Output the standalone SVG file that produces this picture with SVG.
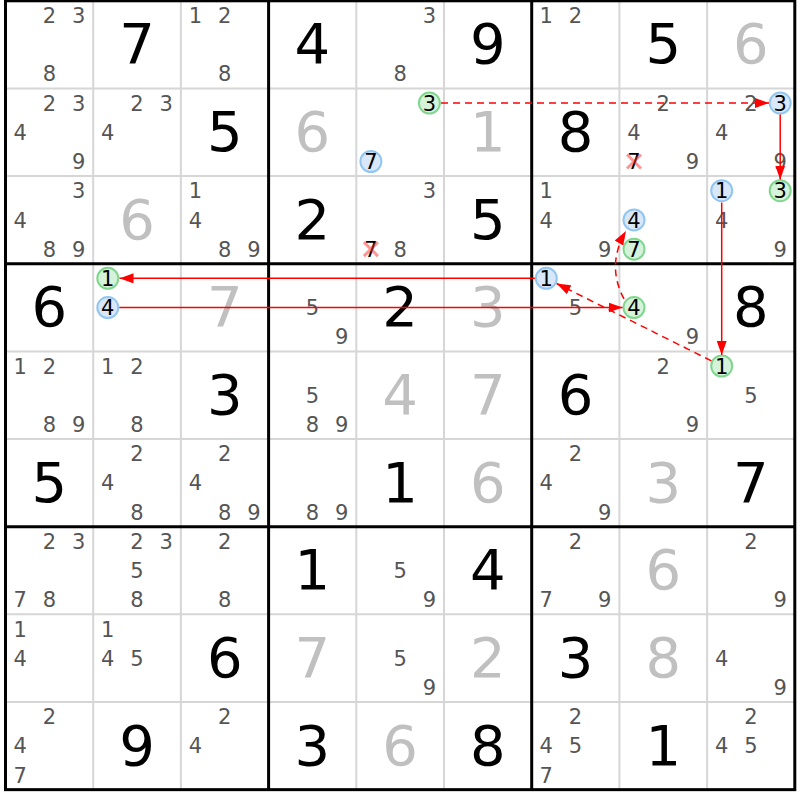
<svg xmlns="http://www.w3.org/2000/svg" width="800" height="800" viewBox="0 0 800 800">
<defs>
<style>
text{font-family:"DejaVu Sans",Verdana,sans-serif;text-anchor:middle}
.c{font-size:21px;fill:#555}
.k{font-size:21px;fill:#000}
.g{font-size:56px;fill:#000}
.s{font-size:56px;fill:#c0c0c0}
.thin{stroke:#d6d6d6;stroke-width:2}
.thick{stroke:#000;stroke-width:3}
.bl{fill:#d8e8f9;stroke:#92c6f2;stroke-width:2}
.gr{fill:#d5f3da;stroke:#80d68e;stroke-width:2}
.x{stroke:#ff3030;stroke-width:3;opacity:0.5}
.ln{fill:none;stroke:#ff0000;stroke-width:1.5}
.dash{stroke-dasharray:7 5}
</style>
<marker id="ah" markerUnits="userSpaceOnUse" markerWidth="14" markerHeight="10" refX="14" refY="5" orient="auto">
<path d="M0,0 L14,5 L0,10 Z" fill="#ff0000"/>
</marker>
</defs>
<rect width="800" height="800" fill="#fff"/>
<g id="grid">
<line class="thin" x1="93.2" y1="0.8" x2="93.2" y2="789.65"/>
<line class="thin" x1="180.9" y1="0.8" x2="180.9" y2="789.65"/>
<line class="thin" x1="356.3" y1="0.8" x2="356.3" y2="789.65"/>
<line class="thin" x1="444" y1="0.8" x2="444" y2="789.65"/>
<line class="thin" x1="619.4" y1="0.8" x2="619.4" y2="789.65"/>
<line class="thin" x1="707.1" y1="0.8" x2="707.1" y2="789.65"/>
<line class="thin" x1="5.5" y1="88.45" x2="794.8" y2="88.45"/>
<line class="thin" x1="5.5" y1="176.1" x2="794.8" y2="176.1"/>
<line class="thin" x1="5.5" y1="351.4" x2="794.8" y2="351.4"/>
<line class="thin" x1="5.5" y1="439.05" x2="794.8" y2="439.05"/>
<line class="thin" x1="5.5" y1="614.35" x2="794.8" y2="614.35"/>
<line class="thin" x1="5.5" y1="702" x2="794.8" y2="702"/>
<line class="thick" x1="268.6" y1="0.8" x2="268.6" y2="789.65"/>
<line class="thick" x1="531.7" y1="0.8" x2="531.7" y2="789.65"/>
<line class="thick" x1="5.5" y1="263.75" x2="794.8" y2="263.75"/>
<line class="thick" x1="5.5" y1="526.7" x2="794.8" y2="526.7"/>
<rect class="thick" x="5.5" y="0.8" width="789.3" height="788.85" fill="none"/>
</g>

<!-- Row 0 -->
<g id="r0c0" transform="translate(5.5,0.8)"><text class="c" x="43.85" y="22.25">2</text><text class="c" x="73.1" y="22.25">3</text><text class="c" x="43.85" y="80.7">8</text></g>
<g id="r0c1" transform="translate(93.2,0.8)"><text class="g" x="43.85" y="62.5">7</text></g>
<g id="r0c2" transform="translate(180.9,0.8)"><text class="c" x="14.6" y="22.25">1</text><text class="c" x="43.85" y="22.25">2</text><text class="c" x="43.85" y="80.7">8</text></g>
<g id="r0c3" transform="translate(268.6,0.8)"><text class="g" x="43.85" y="62.5">4</text></g>
<g id="r0c4" transform="translate(356.3,0.8)"><text class="c" x="73.1" y="22.25">3</text><text class="c" x="43.85" y="80.7">8</text></g>
<g id="r0c5" transform="translate(444,0.8)"><text class="g" x="43.85" y="62.5">9</text></g>
<g id="r0c6" transform="translate(531.7,0.8)"><text class="c" x="14.6" y="22.25">1</text><text class="c" x="43.85" y="22.25">2</text></g>
<g id="r0c7" transform="translate(619.4,0.8)"><text class="g" x="43.85" y="62.5">5</text></g>
<g id="r0c8" transform="translate(707.1,0.8)"><text class="s" x="43.85" y="62.5">6</text></g>

<!-- Row 1 -->
<g id="r1c0" transform="translate(5.5,88.45)"><text class="c" x="43.85" y="22.25">2</text><text class="c" x="73.1" y="22.25">3</text><text class="c" x="14.6" y="51.45">4</text><text class="c" x="73.1" y="80.7">9</text></g>
<g id="r1c1" transform="translate(93.2,88.45)"><text class="c" x="43.85" y="22.25">2</text><text class="c" x="73.1" y="22.25">3</text><text class="c" x="14.6" y="51.45">4</text></g>
<g id="r1c2" transform="translate(180.9,88.45)"><text class="g" x="43.85" y="62.5">5</text></g>
<g id="r1c3" transform="translate(268.6,88.45)"><text class="s" x="43.85" y="62.5">6</text></g>
<g id="r1c4" transform="translate(356.3,88.45)"><circle class="gr" cx="73.1" cy="14.6" r="10.5"/><text class="k" x="73.1" y="22.25">3</text><circle class="bl" cx="14.6" cy="73.05" r="10.5"/><text class="k" x="14.6" y="80.7">7</text></g>
<g id="r1c5" transform="translate(444,88.45)"><text class="s" x="43.85" y="62.5">1</text></g>
<g id="r1c6" transform="translate(531.7,88.45)"><text class="g" x="43.85" y="62.5">8</text></g>
<g id="r1c7" transform="translate(619.4,88.45)"><text class="c" x="43.85" y="22.25">2</text><text class="c" x="14.6" y="51.45">4</text><text class="k" x="14.6" y="80.7">7</text><path class="x" d="M7.6,66 L21.6,80 M21.6,66 L7.6,80"/><text class="c" x="73.1" y="80.7">9</text></g>
<g id="r1c8" transform="translate(707.1,88.45)"><text class="c" x="43.85" y="22.25">2</text><circle class="bl" cx="73.1" cy="14.6" r="10.5"/><text class="k" x="73.1" y="22.25">3</text><text class="c" x="14.6" y="51.45">4</text><text class="c" x="73.1" y="80.7">9</text></g>

<!-- Row 2 -->
<g id="r2c0" transform="translate(5.5,176.1)"><text class="c" x="73.1" y="22.25">3</text><text class="c" x="14.6" y="51.45">4</text><text class="c" x="43.85" y="80.7">8</text><text class="c" x="73.1" y="80.7">9</text></g>
<g id="r2c1" transform="translate(93.2,176.1)"><text class="s" x="43.85" y="62.5">6</text></g>
<g id="r2c2" transform="translate(180.9,176.1)"><text class="c" x="14.6" y="22.25">1</text><text class="c" x="14.6" y="51.45">4</text><text class="c" x="43.85" y="80.7">8</text><text class="c" x="73.1" y="80.7">9</text></g>
<g id="r2c3" transform="translate(268.6,176.1)"><text class="g" x="43.85" y="62.5">2</text></g>
<g id="r2c4" transform="translate(356.3,176.1)"><text class="c" x="73.1" y="22.25">3</text><text class="k" x="14.6" y="80.7">7</text><path class="x" d="M7.6,66 L21.6,80 M21.6,66 L7.6,80"/><text class="c" x="43.85" y="80.7">8</text></g>
<g id="r2c5" transform="translate(444,176.1)"><text class="g" x="43.85" y="62.5">5</text></g>
<g id="r2c6" transform="translate(531.7,176.1)"><text class="c" x="14.6" y="22.25">1</text><text class="c" x="14.6" y="51.45">4</text><text class="c" x="73.1" y="80.7">9</text></g>
<g id="r2c7" transform="translate(619.4,176.1)"><circle class="bl" cx="14.6" cy="43.8" r="10.5"/><text class="k" x="14.6" y="51.45">4</text><circle class="gr" cx="14.6" cy="73.05" r="10.5"/><text class="k" x="14.6" y="80.7">7</text></g>
<g id="r2c8" transform="translate(707.1,176.1)"><circle class="bl" cx="14.6" cy="14.6" r="10.5"/><text class="k" x="14.6" y="22.25">1</text><circle class="gr" cx="73.1" cy="14.6" r="10.5"/><text class="k" x="73.1" y="22.25">3</text><text class="c" x="14.6" y="51.45">4</text><text class="c" x="73.1" y="80.7">9</text></g>

<!-- Row 3 -->
<g id="r3c0" transform="translate(5.5,263.75)"><text class="g" x="43.85" y="62.5">6</text></g>
<g id="r3c1" transform="translate(93.2,263.75)"><circle class="gr" cx="14.6" cy="14.6" r="10.5"/><text class="k" x="14.6" y="22.25">1</text><circle class="bl" cx="14.6" cy="43.8" r="10.5"/><text class="k" x="14.6" y="51.45">4</text></g>
<g id="r3c2" transform="translate(180.9,263.75)"><text class="s" x="43.85" y="62.5">7</text></g>
<g id="r3c3" transform="translate(268.6,263.75)"><text class="c" x="43.85" y="51.45">5</text><text class="c" x="73.1" y="80.7">9</text></g>
<g id="r3c4" transform="translate(356.3,263.75)"><text class="g" x="43.85" y="62.5">2</text></g>
<g id="r3c5" transform="translate(444,263.75)"><text class="s" x="43.85" y="62.5">3</text></g>
<g id="r3c6" transform="translate(531.7,263.75)"><circle class="bl" cx="14.6" cy="14.6" r="10.5"/><text class="k" x="14.6" y="22.25">1</text><text class="c" x="43.85" y="51.45">5</text></g>
<g id="r3c7" transform="translate(619.4,263.75)"><circle class="gr" cx="14.6" cy="43.8" r="10.5"/><text class="k" x="14.6" y="51.45">4</text><text class="c" x="73.1" y="80.7">9</text></g>
<g id="r3c8" transform="translate(707.1,263.75)"><text class="g" x="43.85" y="62.5">8</text></g>

<!-- Row 4 -->
<g id="r4c0" transform="translate(5.5,351.4)"><text class="c" x="14.6" y="22.25">1</text><text class="c" x="43.85" y="22.25">2</text><text class="c" x="43.85" y="80.7">8</text><text class="c" x="73.1" y="80.7">9</text></g>
<g id="r4c1" transform="translate(93.2,351.4)"><text class="c" x="14.6" y="22.25">1</text><text class="c" x="43.85" y="22.25">2</text><text class="c" x="43.85" y="80.7">8</text></g>
<g id="r4c2" transform="translate(180.9,351.4)"><text class="g" x="43.85" y="62.5">3</text></g>
<g id="r4c3" transform="translate(268.6,351.4)"><text class="c" x="43.85" y="51.45">5</text><text class="c" x="43.85" y="80.7">8</text><text class="c" x="73.1" y="80.7">9</text></g>
<g id="r4c4" transform="translate(356.3,351.4)"><text class="s" x="43.85" y="62.5">4</text></g>
<g id="r4c5" transform="translate(444,351.4)"><text class="s" x="43.85" y="62.5">7</text></g>
<g id="r4c6" transform="translate(531.7,351.4)"><text class="g" x="43.85" y="62.5">6</text></g>
<g id="r4c7" transform="translate(619.4,351.4)"><text class="c" x="43.85" y="22.25">2</text><text class="c" x="73.1" y="80.7">9</text></g>
<g id="r4c8" transform="translate(707.1,351.4)"><circle class="gr" cx="14.6" cy="14.6" r="10.5"/><text class="k" x="14.6" y="22.25">1</text><text class="c" x="43.85" y="51.45">5</text></g>

<!-- Row 5 -->
<g id="r5c0" transform="translate(5.5,439.05)"><text class="g" x="43.85" y="62.5">5</text></g>
<g id="r5c1" transform="translate(93.2,439.05)"><text class="c" x="43.85" y="22.25">2</text><text class="c" x="14.6" y="51.45">4</text><text class="c" x="43.85" y="80.7">8</text></g>
<g id="r5c2" transform="translate(180.9,439.05)"><text class="c" x="43.85" y="22.25">2</text><text class="c" x="14.6" y="51.45">4</text><text class="c" x="43.85" y="80.7">8</text><text class="c" x="73.1" y="80.7">9</text></g>
<g id="r5c3" transform="translate(268.6,439.05)"><text class="c" x="43.85" y="80.7">8</text><text class="c" x="73.1" y="80.7">9</text></g>
<g id="r5c4" transform="translate(356.3,439.05)"><text class="g" x="43.85" y="62.5">1</text></g>
<g id="r5c5" transform="translate(444,439.05)"><text class="s" x="43.85" y="62.5">6</text></g>
<g id="r5c6" transform="translate(531.7,439.05)"><text class="c" x="43.85" y="22.25">2</text><text class="c" x="14.6" y="51.45">4</text><text class="c" x="73.1" y="80.7">9</text></g>
<g id="r5c7" transform="translate(619.4,439.05)"><text class="s" x="43.85" y="62.5">3</text></g>
<g id="r5c8" transform="translate(707.1,439.05)"><text class="g" x="43.85" y="62.5">7</text></g>

<!-- Row 6 -->
<g id="r6c0" transform="translate(5.5,526.7)"><text class="c" x="43.85" y="22.25">2</text><text class="c" x="73.1" y="22.25">3</text><text class="c" x="14.6" y="80.7">7</text><text class="c" x="43.85" y="80.7">8</text></g>
<g id="r6c1" transform="translate(93.2,526.7)"><text class="c" x="43.85" y="22.25">2</text><text class="c" x="73.1" y="22.25">3</text><text class="c" x="43.85" y="51.45">5</text><text class="c" x="43.85" y="80.7">8</text></g>
<g id="r6c2" transform="translate(180.9,526.7)"><text class="c" x="43.85" y="22.25">2</text><text class="c" x="43.85" y="80.7">8</text></g>
<g id="r6c3" transform="translate(268.6,526.7)"><text class="g" x="43.85" y="62.5">1</text></g>
<g id="r6c4" transform="translate(356.3,526.7)"><text class="c" x="43.85" y="51.45">5</text><text class="c" x="73.1" y="80.7">9</text></g>
<g id="r6c5" transform="translate(444,526.7)"><text class="g" x="43.85" y="62.5">4</text></g>
<g id="r6c6" transform="translate(531.7,526.7)"><text class="c" x="43.85" y="22.25">2</text><text class="c" x="14.6" y="80.7">7</text><text class="c" x="73.1" y="80.7">9</text></g>
<g id="r6c7" transform="translate(619.4,526.7)"><text class="s" x="43.85" y="62.5">6</text></g>
<g id="r6c8" transform="translate(707.1,526.7)"><text class="c" x="43.85" y="22.25">2</text><text class="c" x="73.1" y="80.7">9</text></g>

<!-- Row 7 -->
<g id="r7c0" transform="translate(5.5,614.35)"><text class="c" x="14.6" y="22.25">1</text><text class="c" x="14.6" y="51.45">4</text></g>
<g id="r7c1" transform="translate(93.2,614.35)"><text class="c" x="14.6" y="22.25">1</text><text class="c" x="14.6" y="51.45">4</text><text class="c" x="43.85" y="51.45">5</text></g>
<g id="r7c2" transform="translate(180.9,614.35)"><text class="g" x="43.85" y="62.5">6</text></g>
<g id="r7c3" transform="translate(268.6,614.35)"><text class="s" x="43.85" y="62.5">7</text></g>
<g id="r7c4" transform="translate(356.3,614.35)"><text class="c" x="43.85" y="51.45">5</text><text class="c" x="73.1" y="80.7">9</text></g>
<g id="r7c5" transform="translate(444,614.35)"><text class="s" x="43.85" y="62.5">2</text></g>
<g id="r7c6" transform="translate(531.7,614.35)"><text class="g" x="43.85" y="62.5">3</text></g>
<g id="r7c7" transform="translate(619.4,614.35)"><text class="s" x="43.85" y="62.5">8</text></g>
<g id="r7c8" transform="translate(707.1,614.35)"><text class="c" x="14.6" y="51.45">4</text><text class="c" x="73.1" y="80.7">9</text></g>

<!-- Row 8 -->
<g id="r8c0" transform="translate(5.5,702)"><text class="c" x="43.85" y="22.25">2</text><text class="c" x="14.6" y="51.45">4</text><text class="c" x="14.6" y="80.7">7</text></g>
<g id="r8c1" transform="translate(93.2,702)"><text class="g" x="43.85" y="62.5">9</text></g>
<g id="r8c2" transform="translate(180.9,702)"><text class="c" x="43.85" y="22.25">2</text><text class="c" x="14.6" y="51.45">4</text></g>
<g id="r8c3" transform="translate(268.6,702)"><text class="g" x="43.85" y="62.5">3</text></g>
<g id="r8c4" transform="translate(356.3,702)"><text class="s" x="43.85" y="62.5">6</text></g>
<g id="r8c5" transform="translate(444,702)"><text class="g" x="43.85" y="62.5">8</text></g>
<g id="r8c6" transform="translate(531.7,702)"><text class="c" x="43.85" y="22.25">2</text><text class="c" x="14.6" y="51.45">4</text><text class="c" x="43.85" y="51.45">5</text><text class="c" x="14.6" y="80.7">7</text></g>
<g id="r8c7" transform="translate(619.4,702)"><text class="g" x="43.85" y="62.5">1</text></g>
<g id="r8c8" transform="translate(707.1,702)"><text class="c" x="43.85" y="22.25">2</text><text class="c" x="14.6" y="51.45">4</text><text class="c" x="43.85" y="51.45">5</text></g>

<g id="connectors">
<path class="ln dash" d="M441,103.05 L769,103.05" marker-end="url(#ah)"/>
<path class="ln" d="M780.2,114.5 L780.2,179.5" marker-end="url(#ah)"/>
<path class="ln" d="M721.7,202.5 L721.7,355" marker-end="url(#ah)"/>
<path class="ln dash" d="M711.4,360.9 L556.6,283.5" marker-end="url(#ah)"/>
<path class="ln" d="M534.8,278.35 L119.5,278.35" marker-end="url(#ah)"/>
<path class="ln" d="M119.3,307.55 L622.5,307.55" marker-end="url(#ah)"/>
<path class="ln dash" d="M624,299 Q606,265 626,231" marker-end="url(#ah)"/>
</g>
</svg>
